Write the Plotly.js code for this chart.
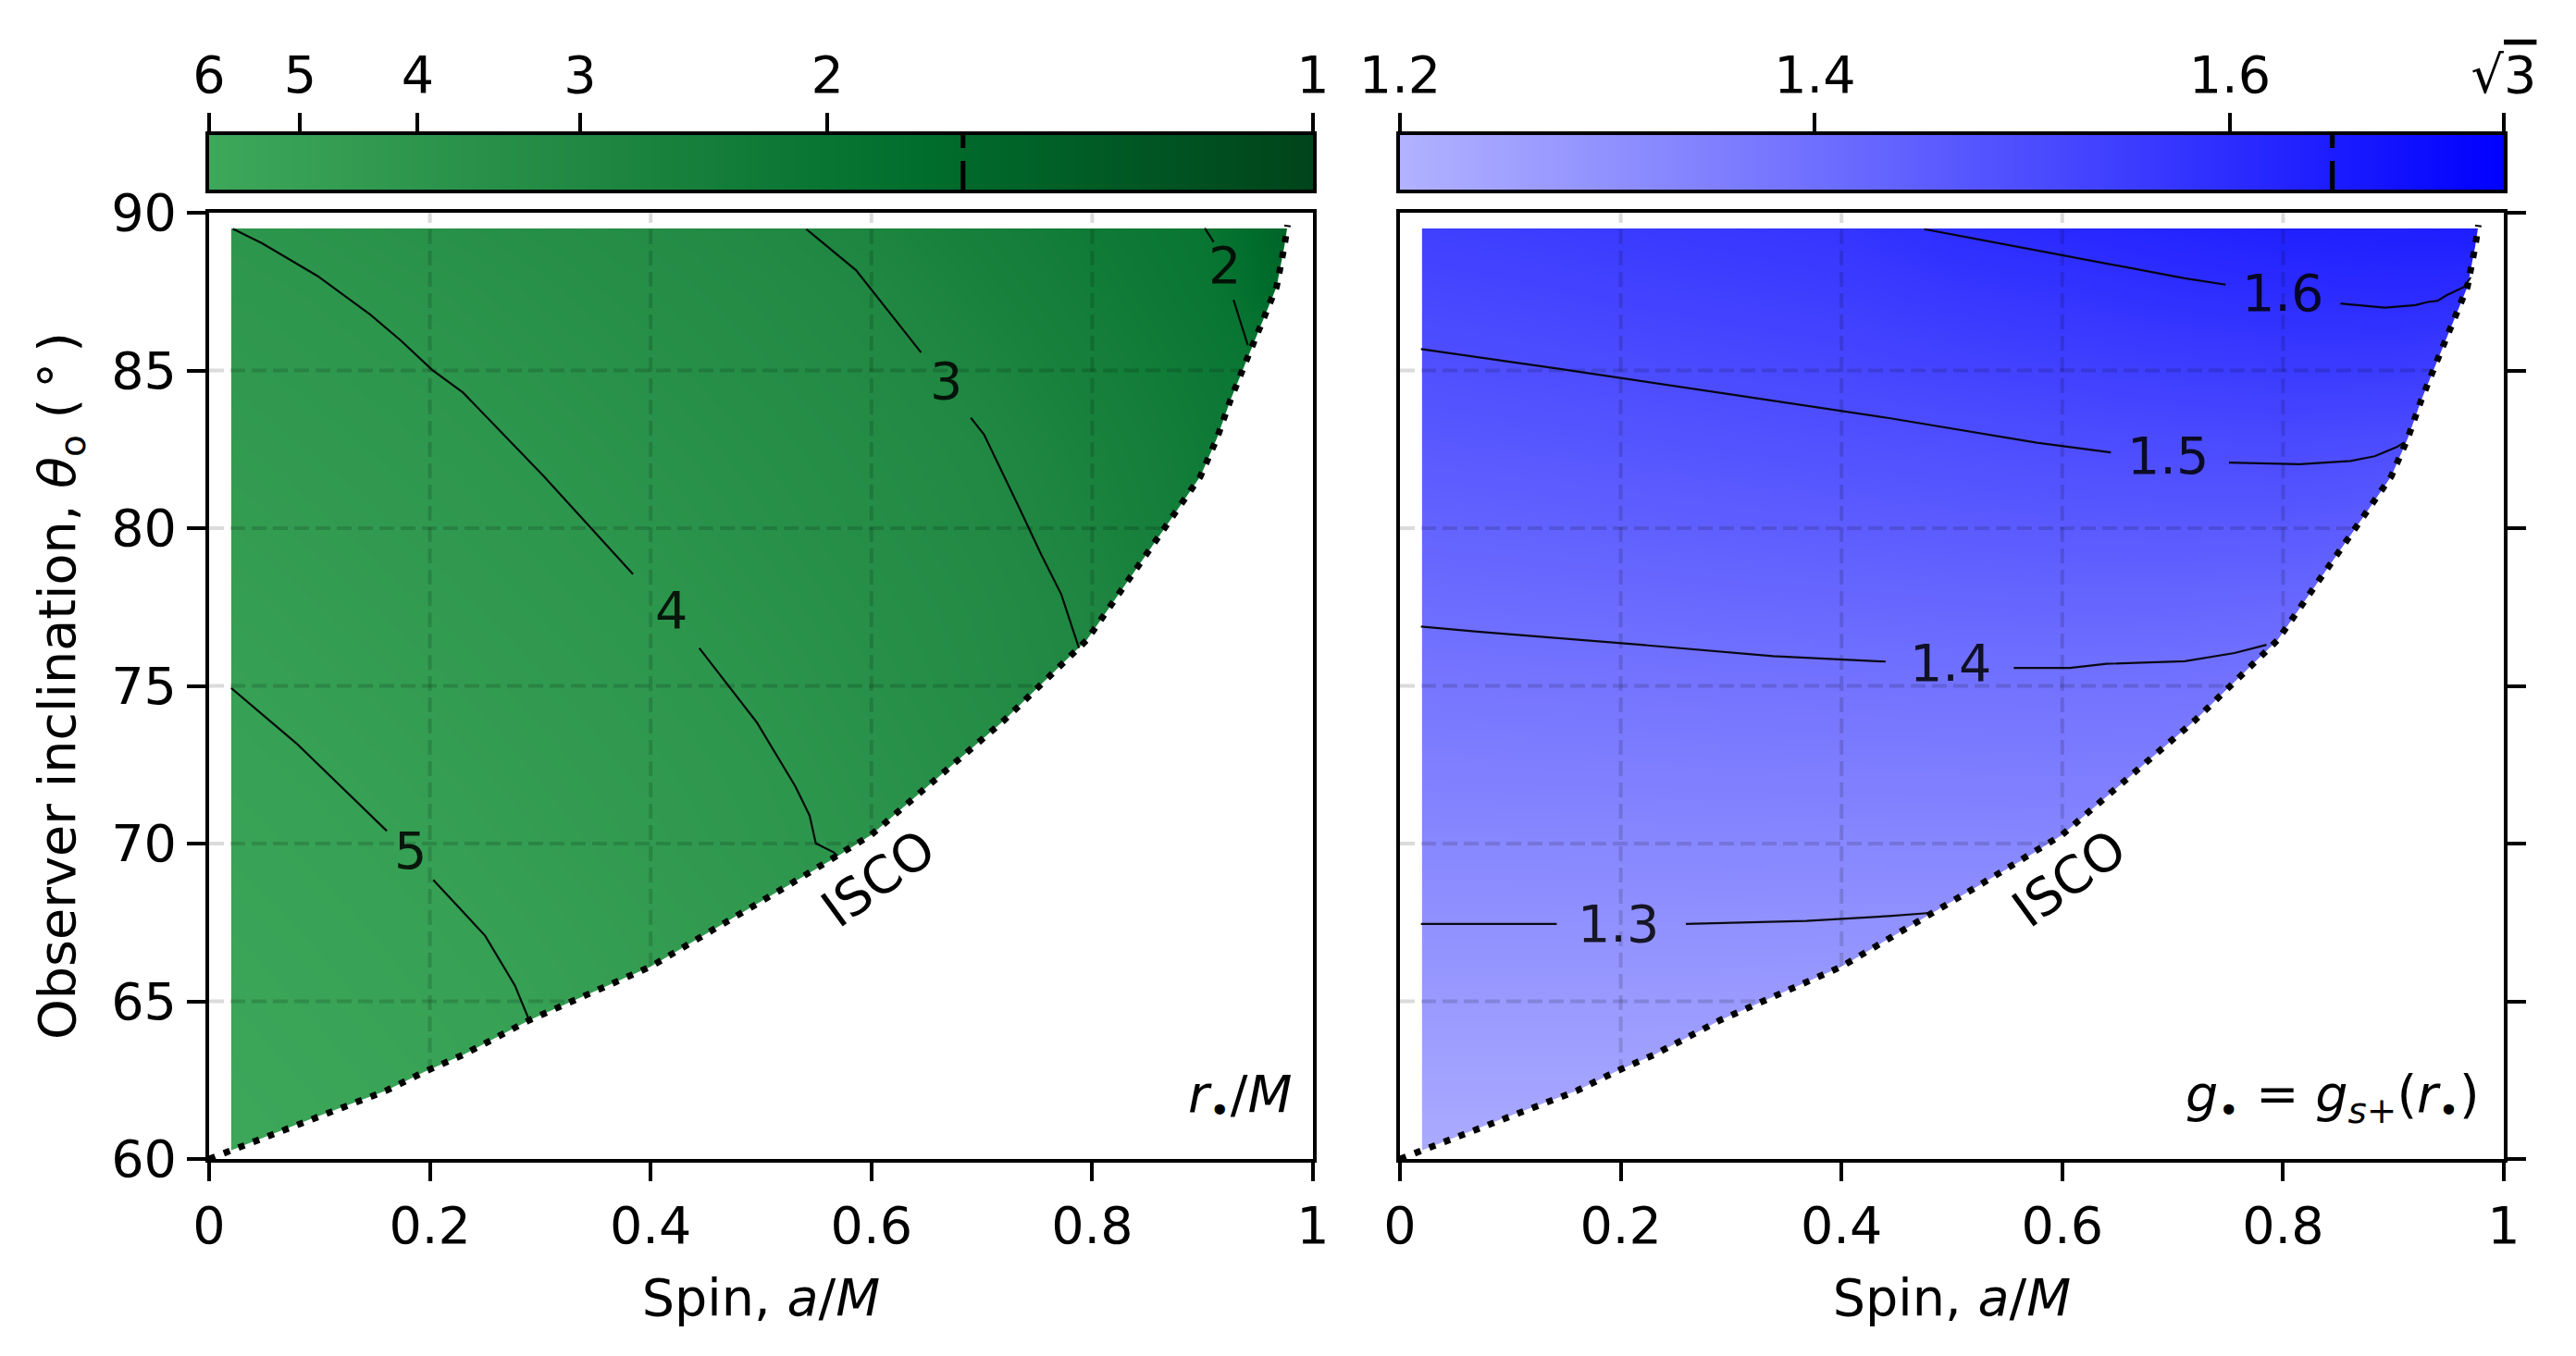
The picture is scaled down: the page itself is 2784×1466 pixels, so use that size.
<!DOCTYPE html>
<html><head><meta charset="utf-8">
<script src="https://cdn.plot.ly/plotly-3.0.1.min.js"></script>
<style>html,body{margin:0;padding:0;background:#fff;}#chart{width:2784px;height:1466px;}</style>
</head><body><div id="chart"></div>
<script>
// ---------------- data ----------------
const spinGrid = [0.02, 0.1, 0.2, 0.3, 0.4, 0.5, 0.6, 0.7, 0.8, 0.9, 0.98];
const inclGrid = [60, 62.5, 65, 67.5, 70, 72.5, 75, 77.5, 80, 82.5, 85, 87.5, 89.5];

// r_bullet / M  (rows = inclination, columns = spin)
const rGrid = [
  [5.95,5.75,5.50,5.25,4.95,4.65,4.30,3.95,3.55,3.10,2.70],
  [5.80,5.60,5.35,5.05,4.72,4.40,4.05,3.70,3.30,2.90,2.50],
  [5.64,5.45,5.20,4.96,4.66,4.33,3.98,3.60,3.20,2.80,2.40],
  [5.48,5.30,5.08,4.82,4.56,4.28,3.95,3.55,3.12,2.72,2.35],
  [5.32,5.15,4.93,4.66,4.40,4.13,3.84,3.45,3.05,2.65,2.30],
  [5.16,5.00,4.76,4.52,4.29,4.05,3.72,3.39,3.00,2.60,2.25],
  [5.00,4.82,4.60,4.38,4.16,3.91,3.59,3.27,2.95,2.55,2.20],
  [4.82,4.65,4.44,4.23,4.01,3.75,3.48,3.21,2.89,2.45,2.10],
  [4.65,4.49,4.29,4.09,3.86,3.61,3.36,3.11,2.78,2.35,2.05],
  [4.48,4.33,4.15,3.95,3.72,3.49,3.26,3.03,2.68,2.30,2.00],
  [4.31,4.17,4.00,3.79,3.57,3.35,3.13,2.87,2.54,2.21,1.95],
  [4.14,4.02,3.83,3.62,3.41,3.21,3.00,2.69,2.39,2.08,1.66],
  [4.00,3.85,3.65,3.46,3.27,3.08,2.83,2.56,2.28,2.01,1.60]
];

// g_bullet = g_s+(r_bullet)
const gGrid = [
  [1.220,1.220,1.220,1.220,1.220,1.220,1.220,1.220,1.220,1.220,1.220],
  [1.247,1.247,1.247,1.247,1.246,1.246,1.246,1.246,1.246,1.246,1.246],
  [1.274,1.274,1.274,1.273,1.272,1.272,1.272,1.272,1.272,1.272,1.272],
  [1.300,1.300,1.300,1.300,1.299,1.298,1.298,1.298,1.298,1.298,1.298],
  [1.327,1.327,1.328,1.329,1.329,1.330,1.331,1.330,1.328,1.326,1.325],
  [1.353,1.355,1.356,1.358,1.359,1.360,1.361,1.360,1.357,1.354,1.352],
  [1.380,1.382,1.384,1.387,1.389,1.391,1.391,1.390,1.385,1.382,1.380],
  [1.407,1.410,1.413,1.418,1.421,1.425,1.427,1.426,1.421,1.415,1.410],
  [1.435,1.439,1.444,1.449,1.454,1.459,1.463,1.465,1.464,1.455,1.450],
  [1.464,1.468,1.474,1.481,1.487,1.493,1.499,1.504,1.508,1.500,1.490],
  [1.492,1.498,1.505,1.512,1.519,1.530,1.538,1.548,1.555,1.555,1.545],
  [1.520,1.526,1.535,1.543,1.551,1.568,1.578,1.593,1.602,1.608,1.600],
  [1.543,1.549,1.558,1.566,1.575,1.598,1.610,1.625,1.635,1.640,1.645]
];

// ISCO boundary
const iscoSpin = [0.000,0.037,0.090,0.160,0.196,0.230,0.290,0.400,0.523,0.569,0.600,0.642,0.720,0.795,0.856,0.877,0.898,0.913,0.925,0.939,0.953,0.967,0.974,0.977];
const iscoIncl = [60.00,60.51,61.24,62.16,62.78,63.30,64.40,66.10,68.64,69.59,70.28,71.55,73.90,76.45,79.49,80.57,81.64,82.85,84.04,85.26,86.46,87.65,88.92,89.61];
const fillSpinMin = 0.02;
const fillInclMax = 89.5;

// contour lines of r (null = gap for the label)
const r5Spin = [0.020,0.079,0.161,null,0.203,0.230,0.250,0.277,0.290];
const r5Incl = [74.93,73.18,70.40,null,68.85,67.83,67.08,65.50,64.40];
const r4Spin = [0.0215,0.048,0.098,0.146,0.174,0.202,0.230,0.3025,0.384,null,0.444,0.496,0.531,0.544,0.5496,0.566,0.569];
const r4Incl = [89.49,89.03,88.00,86.77,85.94,85.02,84.30,81.67,78.54,null,76.20,73.85,71.82,70.89,70.01,69.72,69.62];
const r3Spin = [0.541,0.586,0.645,null,0.690,0.702,0.733,0.754,0.772,0.788];
const r3Incl = [89.48,88.18,85.57,null,83.50,82.97,80.71,79.15,77.90,76.20];
const r2Spin = [0.902,0.910,null,0.928,0.941];
const r2Incl = [89.51,89.07,null,87.24,85.80];
const rLabelText = ['5','4','3','2'];
const rLabelSpin = [0.182,0.419,0.668,0.920];
const rLabelIncl = [69.78,77.40,84.69,88.34];

// contour lines of g
const g13Spin = [0.019,0.142,null,0.259,0.368,0.443,0.480];
const g13Incl = [67.45,67.45,null,67.45,67.55,67.70,67.80];
const g14Spin = [0.019,0.070,0.219,0.338,0.440,null,0.556,0.607,0.640,0.666,0.711,0.756,0.785];
const g14Incl = [76.88,76.72,76.30,75.94,75.77,null,75.57,75.57,75.70,75.73,75.78,76.04,76.30];
const g15Spin = [0.019,0.145,0.294,0.443,0.577,0.644,null,0.751,0.815,0.861,0.883,0.903,0.910];
const g15Incl = [85.68,85.05,84.27,83.49,82.71,82.40,null,82.08,82.03,82.13,82.28,82.57,82.72];
const g16Spin = [0.475,0.592,0.711,0.748,null,0.852,0.892,0.920,0.931,0.940,0.948,0.964,0.970];
const g16Incl = [89.48,88.70,87.92,87.72,null,87.12,86.99,87.07,87.17,87.21,87.38,87.65,87.95];
const gLabelText = ['1.3','1.4','1.5','1.6'];
const gLabelSpin = [0.198,0.499,0.696,0.800];
const gLabelIncl = [67.45,75.73,82.29,87.45];

// ticks
const spinTicks = [0,0.2,0.4,0.6,0.8,1];
const spinTickText = ['0','0.2','0.4','0.6','0.8','1'];
const inclTicks = [60,65,70,75,80,85,90];
const cbRTickPos = [0,0.0825,0.189,0.336,0.560,1];
const cbRTickVals = [6,5,4,3,2,1];
const cbRTickText = ['6','5','4','3','2','1'];
const cbRMarkerPos = 0.683;
const cbGTickVals = [1.2,1.4,1.6,Math.sqrt(3)];
const cbGTickText = ['1.2','1.4','1.6','√<span style="text-decoration:overline">3</span>'];
const cbGMarker = 1.6494;

// colour maps
const rStops = [1,1.5,1.79,2,3,4,5,6];
const rStopColors = ['#00441b','#005e26','#006d2c','#097533','#208842','#2d964d','#36a054','#3da75a'];
const gStops = [1.2, Math.sqrt(3)];
const gStopColors = ['rgb(178,178,255)','rgb(0,0,255)'];

// ---------------- build ----------------
const FONT = 'DejaVu Sans';
const FS = 55.6;
const rMin = rStops[0], rMax = rStops[rStops.length-1];
const greenScale = rStops.map((r,i)=>[(r-rMin)/(rMax-rMin), rStopColors[i]]);
const gMin = gStops[0], gMax = gStops[gStops.length-1];
const blueScale = gStops.map((g,i)=>[(g-gMin)/(gMax-gMin), gStopColors[i]]);

const xLo = spinTicks[0], xHi = spinTicks[spinTicks.length-1];
const yLo = inclTicks[0], yHi = inclTicks[inclTicks.length-1];
const pad = 0.1;

function masksAndGrid(xa, ya) {
  const out = [];
  // left strip & top strip (outside the computed domain)
  out.push({type:'scatter', mode:'lines', x:[xLo-pad, fillSpinMin, fillSpinMin, xLo-pad], y:[yLo-1, yLo-1, yHi+1, yHi+1],
    fill:'toself', fillcolor:'#ffffff', line:{width:0, color:'#ffffff'}, xaxis:xa, yaxis:ya, hoverinfo:'skip', showlegend:false});
  out.push({type:'scatter', mode:'lines', x:[xLo-pad, xHi+pad, xHi+pad, xLo-pad], y:[fillInclMax, fillInclMax, yHi+1, yHi+1],
    fill:'toself', fillcolor:'#ffffff', line:{width:0, color:'#ffffff'}, xaxis:xa, yaxis:ya, hoverinfo:'skip', showlegend:false});
  // grid lines (drawn over the map)
  const gx = [], gy = [];
  spinTicks.slice(1,-1).forEach(v=>{ gx.push(v,v,null); gy.push(yLo,yHi,null); });
  inclTicks.slice(1,-1).forEach(v=>{ gx.push(xLo,xHi,null); gy.push(v,v,null); });
  out.push({type:'scatter', mode:'lines', x:gx, y:gy, connectgaps:false,
    line:{color:'rgba(0,0,0,0.14)', width:4, dash:'16px,7px'}, xaxis:xa, yaxis:ya, hoverinfo:'skip', showlegend:false});
  // region below the ISCO
  out.push({type:'scatter', mode:'lines',
    x: iscoSpin.concat([xHi+pad, xHi+pad, xLo-pad, xLo-pad]),
    y: iscoIncl.concat([yHi+1, yLo-1, yLo-1, iscoIncl[0]]),
    fill:'toself', fillcolor:'#ffffff', line:{width:0, color:'#ffffff'}, xaxis:xa, yaxis:ya, hoverinfo:'skip', showlegend:false});
  return out;
}
function contourLine(xs, ys, xa, ya) {
  return {type:'scatter', mode:'lines', x:xs, y:ys, connectgaps:false,
    line:{color:'rgba(0,0,0,0.92)', width:2.2}, xaxis:xa, yaxis:ya, hoverinfo:'skip', showlegend:false};
}
function iscoLine(xa, ya) {
  return {type:'scatter', mode:'lines', x:iscoSpin, y:iscoIncl, cliponaxis:false,
    line:{color:'#000', width:7, dash:'7px,10px'}, xaxis:xa, yaxis:ya, hoverinfo:'skip', showlegend:false};
}

const traces = [];
traces.push({type:'heatmap', x:spinGrid, y:inclGrid, z:rGrid, zsmooth:'best', colorscale:greenScale,
  zmin:rMin, zmax:rMax, showscale:false, xaxis:'x', yaxis:'y', hoverinfo:'skip'});
traces.push({type:'heatmap', x:spinGrid, y:inclGrid, z:gGrid, zsmooth:'best', colorscale:blueScale,
  zmin:gMin, zmax:gMax, showscale:false, xaxis:'x2', yaxis:'y2', hoverinfo:'skip'});
// colour bars
traces.push({type:'heatmap', x:cbRTickPos, y:[0,1], z:[cbRTickVals, cbRTickVals], zsmooth:'best', colorscale:greenScale,
  zmin:rMin, zmax:rMax, showscale:false, xaxis:'x3', yaxis:'y3', hoverinfo:'skip'});
traces.push({type:'heatmap', x:gStops, y:[0,1], z:[gStops, gStops], zsmooth:'best', colorscale:blueScale,
  zmin:gMin, zmax:gMax, showscale:false, xaxis:'x4', yaxis:'y4', hoverinfo:'skip'});

masksAndGrid('x','y').forEach(t=>traces.push(t));
[[r5Spin,r5Incl],[r4Spin,r4Incl],[r3Spin,r3Incl],[r2Spin,r2Incl]].forEach(c=>traces.push(contourLine(c[0],c[1],'x','y')));
traces.push(iscoLine('x','y'));

masksAndGrid('x2','y2').forEach(t=>traces.push(t));
[[g13Spin,g13Incl],[g14Spin,g14Incl],[g15Spin,g15Incl],[g16Spin,g16Incl]].forEach(c=>traces.push(contourLine(c[0],c[1],'x2','y2')));
traces.push(iscoLine('x2','y2'));

// ---------------- layout ----------------
const W = 2784, H = 1466;
const leftDom = [226/W, 1419/W];
const rightDom = [1513/W, 2706/W];
const mainDom = [1-1253/H, 1-230/H];
const cbDom = [1-205/H, 1-146/H];

const axLine = {showline:true, linecolor:'#000', linewidth:4, mirror:true, showgrid:false, zeroline:false,
  ticks:'outside', ticklen:20, tickwidth:4, tickcolor:'#000', tickfont:{family:FONT, size:FS, color:'#000'}};

const xTitle = {text:'Spin, <i>a</i>/<i>M</i>', font:{family:FONT, size:FS, color:'#000'}, standoff:28};

const layout = {
  width:W, height:H, margin:{l:0,r:0,t:0,b:0}, paper_bgcolor:'#fff', plot_bgcolor:'rgba(0,0,0,0)',
  font:{family:FONT, size:FS, color:'#000'}, showlegend:false,
  xaxis: Object.assign({}, axLine, {domain:leftDom, anchor:'y', range:[xLo,xHi], tickvals:spinTicks, ticktext:spinTickText, title:xTitle}),
  yaxis: Object.assign({}, axLine, {domain:mainDom, anchor:'x', range:[yLo,yHi], tickvals:inclTicks,
    title:{text:'Observer inclination, <i>θ</i><sub>o</sub> (\u2009°\u2009)', font:{family:FONT, size:FS, color:'#000'}, standoff:22}}),
  xaxis2: Object.assign({}, axLine, {domain:rightDom, anchor:'y2', range:[xLo,xHi], tickvals:spinTicks, ticktext:spinTickText, title:xTitle}),
  yaxis2: Object.assign({}, axLine, {domain:mainDom, anchor:'x2', range:[yLo,yHi], tickvals:inclTicks, side:'right', showticklabels:false}),
  xaxis3: Object.assign({}, axLine, {domain:leftDom, anchor:'y3', side:'top', range:[0,1], tickvals:cbRTickPos, ticktext:cbRTickText}),
  yaxis3: Object.assign({}, axLine, {domain:cbDom, anchor:'x3', range:[0,1], ticks:'', showticklabels:false}),
  xaxis4: Object.assign({}, axLine, {domain:rightDom, anchor:'y4', side:'top', range:[gMin,gMax], tickvals:cbGTickVals, ticktext:cbGTickText}),
  yaxis4: Object.assign({}, axLine, {domain:cbDom, anchor:'x4', range:[0,1], ticks:'', showticklabels:false}),
  shapes: [
    {type:'line', xref:'x3', yref:'y3 domain', x0:cbRMarkerPos, x1:cbRMarkerPos, y0:1, y1:0, line:{color:'#000', width:5, dash:'14px,14px,60px'}},
    {type:'line', xref:'x4', yref:'y4 domain', x0:cbGMarker, x1:cbGMarker, y0:1, y1:0, line:{color:'#000', width:5, dash:'14px,14px,60px'}}
  ],
  annotations: []
};

const labFont = {family:FONT, size:FS, color:'rgba(0,0,0,0.85)'};
rLabelText.forEach((t,i)=>layout.annotations.push({xref:'x', yref:'y', x:rLabelSpin[i], y:rLabelIncl[i], text:t, showarrow:false, font:labFont, xanchor:'center', yanchor:'middle'}));
gLabelText.forEach((t,i)=>layout.annotations.push({xref:'x2', yref:'y2', x:gLabelSpin[i], y:gLabelIncl[i], text:t, showarrow:false, font:labFont, xanchor:'center', yanchor:'middle'}));

const iscoLabelSpin = 0.606, iscoLabelIncl = 68.9;
[['x','y'],['x2','y2']].forEach(p=>layout.annotations.push({xref:p[0], yref:p[1], x:iscoLabelSpin, y:iscoLabelIncl, text:'ISCO',
  textangle:-36, showarrow:false, font:{family:FONT, size:FS, color:'#000'}, xanchor:'center', yanchor:'middle'}));

layout.annotations.push({xref:'x domain', yref:'y domain', x:1, y:0.065, xshift:-20, xanchor:'right', yanchor:'middle', showarrow:false,
  text:'<i>r</i><sub>•</sub>/<i>M</i>', font:{family:FONT, size:FS, color:'#000'}});
layout.annotations.push({xref:'x2 domain', yref:'y2 domain', x:1, y:0.065, xshift:-24, xanchor:'right', yanchor:'middle', showarrow:false,
  text:'<i>g</i><sub>•</sub> = <i>g</i><sub><i>s</i>+</sub>(<i>r</i><sub>•</sub>)', font:{family:FONT, size:FS, color:'#000'}});

Plotly.newPlot('chart', traces, layout, {staticPlot:true, displayModeBar:false});
</script></body></html>
